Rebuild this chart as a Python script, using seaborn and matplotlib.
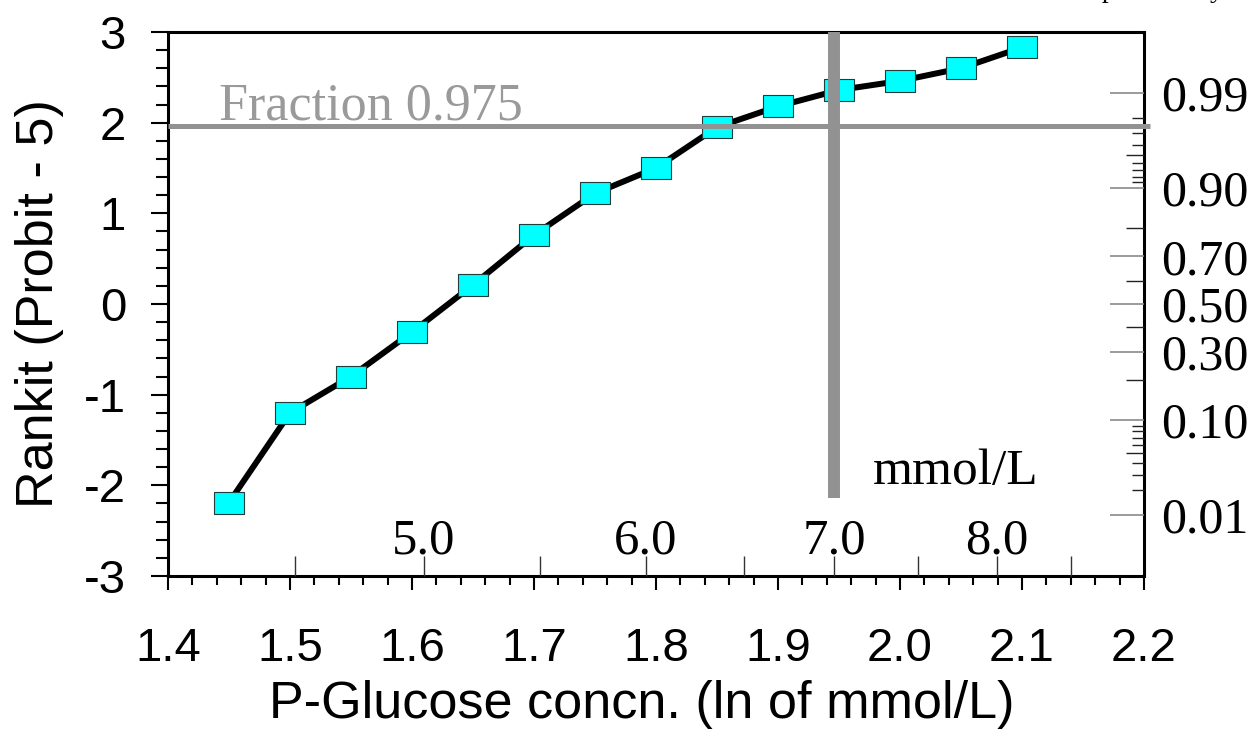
import numpy as np
import pandas as pd
import matplotlib
matplotlib.use("Agg")
import matplotlib.pyplot as plt
from matplotlib.path import Path
from matplotlib.transforms import blended_transform_factory
import seaborn as sns
from statistics import NormalDist

# data
ln_conc = [1.45, 1.50, 1.55, 1.60, 1.65, 1.70, 1.75, 1.80, 1.85, 1.90, 1.95, 2.00, 2.05, 2.10]
rankit = [-2.19, -1.20, -0.80, -0.31, 0.21, 0.76, 1.22, 1.50, 1.95, 2.18, 2.36, 2.46, 2.60, 2.83]

x_ticks = [1.4, 1.5, 1.6, 1.7, 1.8, 1.9, 2.0, 2.1, 2.2]
y_ticks = [-3, -2, -1, 0, 1, 2, 3]

# secondary scale in mmol/L (inner ticks on bottom axis)
conc_ticks = [4.5, 5.0, 5.5, 6.0, 6.5, 7.0, 7.5, 8.0, 8.5]
conc_labels = [5.0, 6.0, 7.0, 8.0]

# cumulative fraction scale on the right axis
frac_major = [0.01, 0.10, 0.30, 0.50, 0.70, 0.90, 0.99]
frac_medium = [0.05, 0.20, 0.40, 0.60, 0.80, 0.95]
frac_small = [0.02, 0.03, 0.04, 0.06, 0.07, 0.08, 0.09,
              0.91, 0.92, 0.93, 0.94, 0.96, 0.97, 0.98]

frac_level = 0.975
cut_conc = 7.0
cut_bottom = -2.14

df = pd.DataFrame({"ln_conc": ln_conc, "rankit": rankit})
probit = NormalDist().inv_cdf

sns.set_style("ticks", {"axes.labelcolor": "black", "text.color": "black",
                        "xtick.color": "black", "ytick.color": "black",
                        "axes.edgecolor": "black"})
plt.rcParams["font.family"] = ["Liberation Sans", "DejaVu Sans"]
SERIF = "Liberation Serif"
GRAY = "#929292"

fig = plt.figure(figsize=(12.6, 7.31), dpi=100)
ax = fig.add_axes([0.13333, 0.21204, 0.77460, 0.74419])

# flat rectangular marker
rect = Path([(-1.0, -0.72), (1.0, -0.72), (1.0, 0.72), (-1.0, 0.72), (-1.0, -0.72)],
            [Path.MOVETO, Path.LINETO, Path.LINETO, Path.LINETO, Path.CLOSEPOLY])

sns.lineplot(data=df, x="ln_conc", y="rankit", ax=ax, color="black", linewidth=4.3,
             marker=rect, markersize=22, markerfacecolor="#00FFFF",
             markeredgecolor="#1f3f3f", markeredgewidth=0.8, zorder=3)

ax.set_xlim(1.4, 2.2)
ax.set_ylim(-3, 3)

# reference lines
z_level = probit(frac_level)
ax.plot([1.4, 2.205], [z_level, z_level], color=GRAY, lw=3.6, clip_on=False,
        solid_capstyle="butt", zorder=6)
ax.plot([np.log(cut_conc)] * 2, [3, cut_bottom], color=GRAY, lw=8.6, clip_on=False,
        solid_capstyle="butt", zorder=6)
ax.text(1.4418, 2.04, f"Fraction {frac_level}", color="#9a9a9a", fontsize=37.5,
        family=SERIF, ha="left", va="baseline")
ax.text(1.978, -1.985, "mmol/L", fontsize=37, family=SERIF, ha="left", va="baseline")

# main axes ticks
ax.set_xticks(x_ticks, [f"{v:.1f}" for v in x_ticks])
ax.set_yticks(y_ticks, [str(v) for v in y_ticks])
ax.set_xticks(np.arange(1.4, 2.2001, 0.02), minor=True)
ax.set_yticks(np.arange(-3, 3.001, 0.2), minor=True)
ax.tick_params(axis="x", which="major", direction="out", length=10, width=1.5,
               labelsize=34, pad=27)
ax.tick_params(axis="x", which="minor", direction="out", length=6.3, width=1.5)
ax.tick_params(axis="y", which="major", direction="out", length=12.2, width=1.5,
               labelsize=34, pad=18)
ax.tick_params(axis="y", which="minor", direction="out", length=8.6, width=1.5)
for s in ax.spines.values():
    s.set_linewidth(2.2)
    s.set_color("black")

ax.set_xlabel("P-Glucose concn. (ln of mmol/L)", fontsize=37.5)
ax.xaxis.set_label_coords(0.4857, -0.192)
ax.xaxis.label.set_va("top")
ax.set_ylabel("Rankit (Probit - 5)", fontsize=37.5, labelpad=14)

# inner ticks in mmol/L
ax_c = ax.twiny()
ax_c.set_xlim(1.4, 2.2)
ax_c.xaxis.set_ticks_position("bottom")
ax_c.set_xticks(np.log(conc_ticks), [""] * len(conc_ticks))
ax_c.tick_params(axis="x", direction="in", length=14.4, width=1, color="#333333")
for s in ax_c.spines.values():
    s.set_visible(False)
tr = blended_transform_factory(ax.transData, ax.transAxes)
for v in conc_labels:
    ax.text(np.log(v), 0.042, f"{v:.1f}", transform=tr, fontsize=36.5, family=SERIF,
            ha="center", va="baseline")

# right axis: cumulative fraction on probit scale
ax_r = ax.twinx()
ax_r.set_ylim(-3, 3)
ax_r.set_yticks([probit(p) for p in frac_major], [f"{p:.2f}" for p in frac_major],
                fontsize=36, fontfamily=SERIF)
ax_r.set_yticks([probit(p) for p in frac_small], minor=True)
ax_r.tick_params(axis="y", which="major", direction="in", length=24.5, width=1.2,
                 color="#8a8a8a", pad=12)
ax_r.tick_params(axis="y", which="minor", direction="in", length=8.6, width=1,
                 color="#222222")
for s in ax_r.spines.values():
    s.set_visible(False)

ax_m = ax.twinx()
ax_m.set_ylim(-3, 3)
ax_m.set_yticks([probit(p) for p in frac_medium], [""] * len(frac_medium))
ax_m.tick_params(axis="y", direction="in", length=13, width=1, color="#222222")
for s in ax_m.spines.values():
    s.set_visible(False)

# title cut off at the top edge, only descenders remain
fig.text(0.9714, 1.0 + 3.0 / 731, "Cumulative probability", fontsize=20, family=SERIF,
         ha="right", va="baseline")

fig.savefig("out.png", dpi=100)
